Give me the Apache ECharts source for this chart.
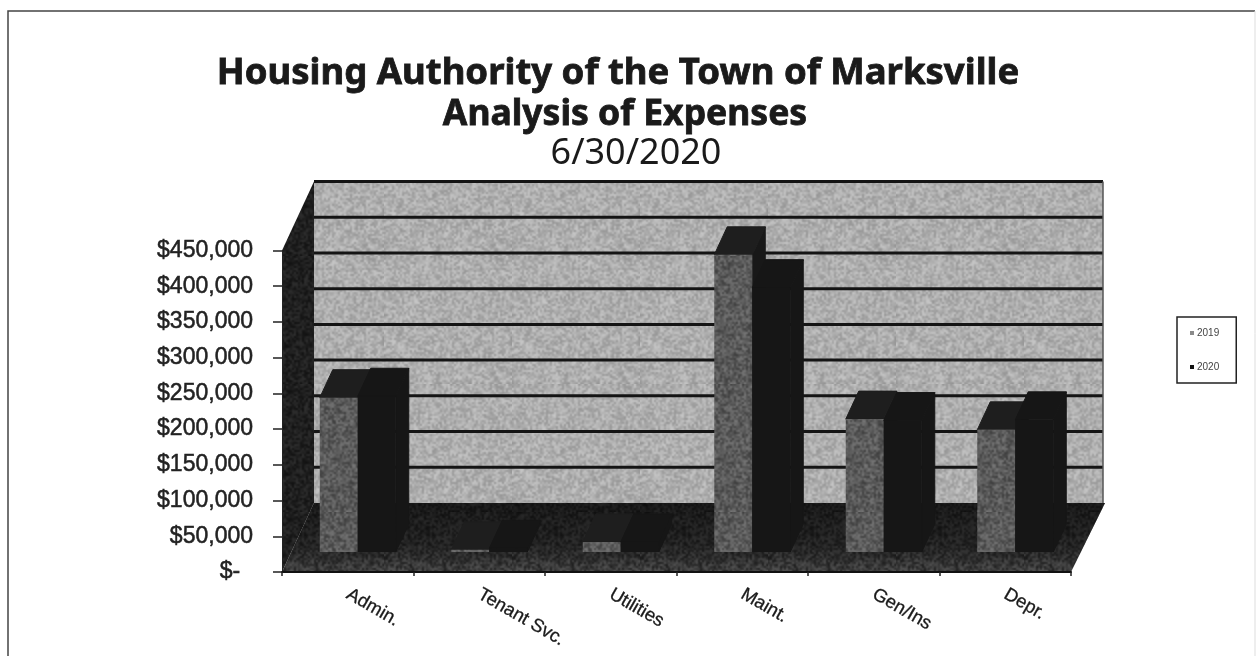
<!DOCTYPE html>
<html>
<head>
<meta charset="utf-8">
<title>Analysis of Expenses</title>
<script src="https://cdn.jsdelivr.net/npm/echarts@6/dist/echarts.min.js"></script>
<style>
  html, body { margin: 0; padding: 0; background: #fff; }
  #chart { width: 1257px; height: 656px; }
</style>
</head>
<body>
<div id="chart"></div>
<script>
const categories = ['Admin.', 'Tenant Svc.', 'Utilities', 'Maint.', 'Gen/Ins', 'Depr.']
const values2019 = [216000, 3000, 14000, 416000, 186000, 171000]
const values2020 = [218000, 5000, 14000, 370000, 184000, 185000]
const tickValues = [0, 50000, 100000, 150000, 200000, 250000, 300000, 350000, 400000, 450000]

// depth of the fake 3d box, in px
const WALL_DX = 32
const WALL_DY = 69
// where the bars stand on the floor
const BAR_FRONT_DX = 10
const BAR_FRONT_DY = 20
const BAR_DX = 13
const BAR_DY = 28
const BAR_W = 38

// scanned-print grain, fixed seed so each render is the same
function makeTile(base, spread, seed) {
  const size = 128
  const raw = document.createElement('canvas')
  raw.width = raw.height = size / 2
  const rawCtx = raw.getContext('2d')
  const img = rawCtx.createImageData(size / 2, size / 2)
  let s = seed
  for (let i = 0; i < (size / 2) * (size / 2); i++) {
    s = (s * 1664525 + 1013904223) >>> 0
    const g = Math.max(0, Math.min(255, base + ((s >>> 24) / 255 - 0.5) * spread))
    img.data[i * 4] = img.data[i * 4 + 1] = img.data[i * 4 + 2] = g
    img.data[i * 4 + 3] = 255
  }
  rawCtx.putImageData(img, 0, 0)
  // scale up so the grain looks soft like the scan
  const c = document.createElement('canvas')
  c.width = c.height = size
  const ctx = c.getContext('2d')
  ctx.imageSmoothingEnabled = true
  ctx.drawImage(raw, 0, 0, size, size)
  return { image: c, repeat: 'repeat' }
}

const wallTile = makeTile(174, 48, 11)
const sideTile = makeTile(32, 30, 23)
const floorTile = makeTile(62, 60, 37)
const front2019 = makeTile(90, 56, 51)

function renderBox(params, api) {
  const cs = params.coordSys
  const left = cs.x
  const right = cs.x + cs.width
  const bottom = cs.y + cs.height
  const top = cs.y
  const children = [
    // back wall
    {
      type: 'polygon',
      shape: { points: [[left + WALL_DX, top - WALL_DY], [right + WALL_DX, top - WALL_DY], [right + WALL_DX, bottom - WALL_DY], [left + WALL_DX, bottom - WALL_DY]] },
      style: { fill: wallTile }
    }
  ]
  tickValues.forEach(v => {
    if (v === 0) return
    const y = api.coord([0, v])[1] - WALL_DY
    children.push({
      type: 'line',
      shape: { x1: left + WALL_DX, y1: y, x2: right + WALL_DX, y2: y },
      style: { stroke: '#141414', lineWidth: 3 }
    })
  })
  children.push({
    type: 'line',
    shape: { x1: right + WALL_DX, y1: top - WALL_DY, x2: right + WALL_DX, y2: bottom - WALL_DY },
    style: { stroke: '#555', lineWidth: 1.5 }
  })
  // floor
  const floorPts = [[left, bottom], [left + WALL_DX, bottom - WALL_DY], [right + WALL_DX + 2, bottom - WALL_DY], [right, bottom]]
  children.push({ type: 'polygon', shape: { points: floorPts }, style: { fill: floorTile } })
  children.push({
    type: 'polygon',
    shape: { points: floorPts },
    style: {
      fill: new echarts.graphic.LinearGradient(0, 0, 0, 1, [
        { offset: 0, color: 'rgba(0,0,0,0.6)' },
        { offset: 0.6, color: 'rgba(0,0,0,0.45)' },
        { offset: 1, color: 'rgba(0,0,0,0)' }
      ])
    }
  })
  // left wall
  children.push({
    type: 'polygon',
    shape: { points: [[left, top], [left + WALL_DX, top - WALL_DY], [left + WALL_DX, bottom - WALL_DY], [left, bottom]] },
    style: { fill: sideTile }
  })
  return { type: 'group', children }
}

function barRenderer(slot, frontFill, topFill, sideFill) {
  return function (params, api) {
    const base = api.coord([api.value(0), 0])
    const head = api.coord([api.value(0), api.value(1)])
    const x0 = base[0] - BAR_W + slot * BAR_W + BAR_FRONT_DX
    const x1 = x0 + BAR_W
    const y0 = base[1] - BAR_FRONT_DY
    const y1 = head[1] - BAR_FRONT_DY
    return {
      type: 'group',
      children: [
        {
          type: 'polygon',
          shape: { points: [[x1, y0], [x1 + BAR_DX, y0 - BAR_DY], [x1 + BAR_DX, y1 - BAR_DY], [x1, y1]] },
          style: { fill: sideFill, stroke: sideFill, lineWidth: 1 }
        },
        {
          type: 'polygon',
          shape: { points: [[x0, y1], [x0 + BAR_DX, y1 - BAR_DY], [x1 + BAR_DX, y1 - BAR_DY], [x1, y1]] },
          style: { fill: topFill, stroke: topFill, lineWidth: 1 }
        },
        {
          type: 'rect',
          shape: { x: x0, y: y1, width: BAR_W, height: y0 - y1 },
          style: { fill: frontFill }
        }
      ]
    }
  }
}

const chart = echarts.init(document.getElementById('chart'), null, { renderer: 'canvas' })

const titleFont = '"Noto Sans", sans-serif'
chart.setOption({
  animation: false,
  backgroundColor: '#fff',
  textStyle: { fontFamily: '"Liberation Sans", Arial, sans-serif' },
  title: [
    { text: 'Housing Authority of the Town of Marksville', left: 618, top: 55, textAlign: 'center', padding: 0,
      textStyle: { fontFamily: titleFont, fontWeight: 'bold', fontSize: 36.5, color: '#1a1a1a', textBorderColor: '#1a1a1a', textBorderWidth: 0.8 } },
    { text: 'Analysis of Expenses', left: 625, top: 97, textAlign: 'center', padding: 0,
      textStyle: { fontFamily: titleFont, fontWeight: 'bold', fontSize: 35.5, color: '#1a1a1a', textBorderColor: '#1a1a1a', textBorderWidth: 0.8 } },
    { text: '6/30/2020', left: 636, top: 136, textAlign: 'center', padding: 0,
      textStyle: { fontFamily: titleFont, fontWeight: 'normal', fontSize: 36, color: '#1a1a1a' } }
  ],
  legend: {
    orient: 'vertical',
    left: 1177,
    top: 317,
    padding: [11, 17, 11, 13],
    itemGap: 24,
    itemWidth: 4,
    itemHeight: 4,
    icon: 'rect',
    borderColor: '#222',
    borderWidth: 1.5,
    data: ['2019', '2020'],
    textStyle: { fontSize: 10, color: '#444', padding: [0, 0, 0, -2] }
  },
  graphic: [
    { type: 'polyline', silent: true, shape: { points: [[8, 656], [8, 11], [1255, 11]] }, style: { stroke: '#444', lineWidth: 1.5, fill: null } },
    { type: 'line', silent: true, shape: { x1: 1255, y1: 11, x2: 1255, y2: 656 }, style: { stroke: '#ddd', lineWidth: 1 } }
  ],
  grid: { left: 282, right: 186, top: 250.5, bottom: 84 },
  xAxis: {
    type: 'category',
    data: categories,
    z: 5,
    axisLine: { lineStyle: { color: '#111', width: 2 } },
    axisTick: { show: true, alignWithLabel: false, length: 4, lineStyle: { color: '#222', width: 1.5 } },
    axisLabel: { rotate: -30, margin: 21, fontSize: 18.5, color: '#1a1a1a', textBorderColor: '#1a1a1a', textBorderWidth: 0.3, interval: 0 }
  },
  yAxis: {
    type: 'value',
    min: 0,
    max: 450000,
    interval: 50000,
    z: 5,
    splitLine: { show: false },
    axisLine: { show: true, lineStyle: { color: '#222', width: 1 } },
    axisTick: { show: true, length: 9, lineStyle: { color: '#222', width: 1.5 } },
    axisLabel: {
      margin: 29,
      fontSize: 23,
      color: '#222',
      textBorderColor: '#222',
      textBorderWidth: 0.5,
      padding: [3, 0, 0, 0],
      formatter: v => v === 0 ? '$-  ' : '$' + v.toLocaleString('en-US')
    }
  },
  series: [
    {
      type: 'custom',
      silent: true,
      clip: false,
      z: 1,
      data: [[0, 0]],
      encode: { x: 0, y: 1 },
      renderItem: renderBox
    },
    {
      name: '2019',
      type: 'custom',
      clip: false,
      z: 2,
      itemStyle: { color: '#8a8a8a' },
      data: categories.map((c, i) => [i, values2019[i]]),
      encode: { x: 0, y: 1 },
      renderItem: barRenderer(0, front2019, '#1e1e1e', '#181818')
    },
    {
      name: '2020',
      type: 'custom',
      clip: false,
      z: 3,
      itemStyle: { color: '#111' },
      data: categories.map((c, i) => [i, values2020[i]]),
      encode: { x: 0, y: 1 },
      renderItem: barRenderer(1, '#161616', '#161616', '#161616')
    }
  ]
})
</script>
</body>
</html>
